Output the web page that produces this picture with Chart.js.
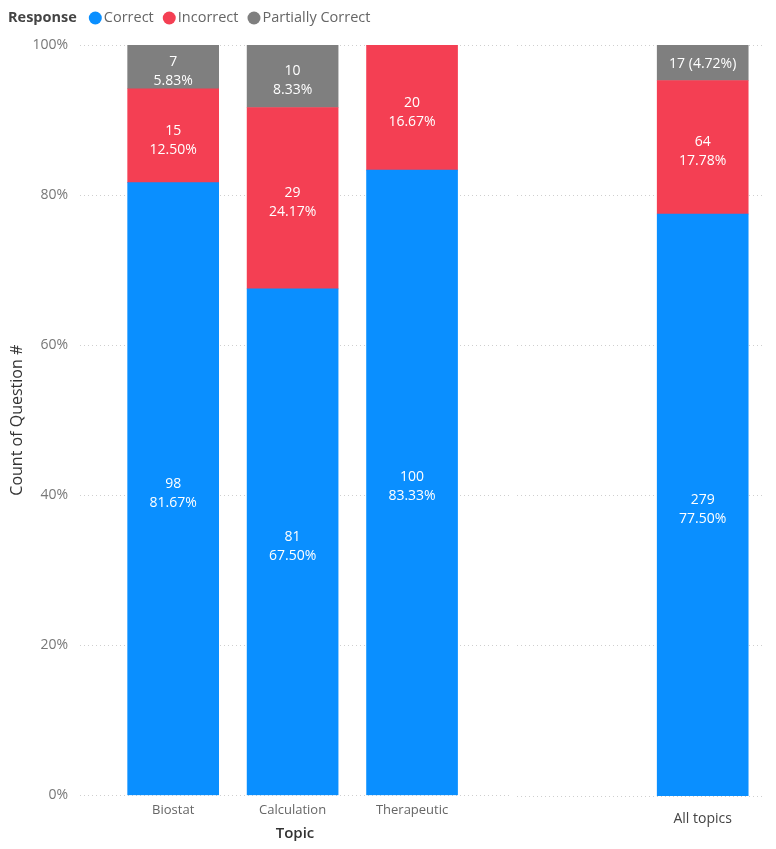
<!DOCTYPE html>
<html>
<head>
<meta charset="utf-8">
<script src="https://cdn.jsdelivr.net/npm/chart.js@4"></script>
<style>
  body { margin:0; background:#fff; }
  #wrap { position:relative; width:776px; height:849px; }
  #chart-topics  { position:absolute; left:0;   top:0; }
  #chart-overall { position:absolute; left:513px; top:0; }
</style>
</head>
<body>
<div id="wrap">
  <canvas id="chart-topics" width="513" height="849"></canvas>
  <canvas id="chart-overall" width="263" height="849"></canvas>
</div>
<script>
  // ── DATA ──────────────────────────────────────────────────────────────────
  const topics    = ['Biostat', 'Calculation', 'Therapeutic'];
  const correct   = [98, 81, 100];
  const incorrect = [15, 29, 20];
  const partial   = [7, 10, 0];

  const overallLabels    = ['All topics'];
  const overallCorrect   = [279];
  const overallIncorrect = [64];
  const overallPartial   = [17];

  const responses = ['Correct', 'Incorrect', 'Partially Correct'];
  const yTicks    = [0, 20, 40, 60, 80, 100];

  const COLORS = { 'Correct':'#0A8FFF', 'Incorrect':'#F43F53', 'Partially Correct':'#7F7F7F' };
  const FONT = '"Open Sans", "Noto Sans", sans-serif';

  // counts per series -> % of each column
  function toPct(series) {
    const totals = series[0].map((_, i) => series.reduce((s, arr) => s + arr[i], 0));
    return series.map(arr => arr.map((v, i) => ({ x:i, y: totals[i] ? v / totals[i] * 100 : 0 })));
  }

  function buildDatasets(series) {
    const pct = toPct(series);
    return responses.map((name, k) => ({
      label: name,
      data: pct[k],
      counts: series[k],
      backgroundColor: COLORS[name],
      borderWidth: 0,
      barThickness: 91,
    }));
  }

  // ── LABELS INSIDE SEGMENTS ────────────────────────────────────────────────
  const segmentLabels = {
    id: 'segmentLabels',
    afterDatasetsDraw(chart) {
      const ctx = chart.ctx;
      ctx.save();
      ctx.font = `14px ${FONT}`;
      ctx.fillStyle = '#fff';
      ctx.textAlign = 'center';
      ctx.textBaseline = 'middle';
      chart.data.datasets.forEach((ds, di) => {
        chart.getDatasetMeta(di).data.forEach((bar, i) => {
          const n = ds.counts[i];
          if (!n) return;
          const pct = ds.data[i].y.toFixed(2) + '%';
          const h  = bar.base - bar.y;
          const cy = (bar.base + bar.y) / 2;
          if (h >= 40) {
            ctx.fillText(String(n), bar.x, cy - 5);
            ctx.fillText(pct, bar.x, cy + 14);
          } else {
            ctx.fillText(`${n} (${pct})`, bar.x, cy + 1);
          }
        });
      });
      ctx.restore();
    }
  };

  // ── LEGEND (inline title + dots) ──────────────────────────────────────────
  const inlineLegend = {
    id: 'inlineLegend',
    afterDraw(chart) {
      const ctx = chart.ctx;
      const y = 18;
      ctx.save();
      ctx.textBaseline = 'middle';
      ctx.font = `bold 14.5px ${FONT}`;
      ctx.fillStyle = '#444';
      ctx.fillText('Response', 8, y);
      let x = 8 + ctx.measureText('Response').width + 12;
      ctx.font = `14.5px ${FONT}`;
      responses.forEach(name => {
        ctx.fillStyle = COLORS[name];
        ctx.beginPath();
        ctx.arc(x + 6.5, y, 6.5, 0, Math.PI * 2);
        ctx.fill();
        ctx.fillStyle = '#666';
        ctx.fillText(name, x + 15, y);
        x += 15 + ctx.measureText(name).width + 9;
      });
      ctx.restore();
    }
  };

  const gridY = {
    min: 0, max: 100,
    stacked: true,
    afterBuildTicks: s => { s.ticks = yTicks.map(v => ({ value:v })); },
    grid: { color:'#cfcfcf', lineWidth:1, drawTicks:false },
    border: { display:false, dash:[1,3] },
  };

  // ── TOPICS CHART ──────────────────────────────────────────────────────────
  new Chart(document.getElementById('chart-topics'), {
    type: 'bar',
    data: { datasets: buildDatasets([correct, incorrect, partial]) },
    plugins: [segmentLabels, inlineLegend],
    options: {
      responsive: false,
      animation: false,
      layout: { padding: { top:45, right:3, bottom:0, left:0 } },
      plugins: { legend:{ display:false }, tooltip:{ enabled:false } },
      scales: {
        x: {
          type: 'linear',
          offset: false,
          min: -0.78, max: 2.82,
          stacked: true,
          afterBuildTicks: s => { s.ticks = topics.map((_, i) => ({ value:i })); },
          ticks: { callback: v => topics[v] ?? '', autoSkip:false, maxRotation:0, padding:7,
                   color:'#666', font:{ family:FONT, size:13 } },
          grid: { display:false, drawTicks:false, offset:false },
          border: { display:false },
          title: { display:true, text:'Topic', color:'#333', padding:{ top:0, bottom:6 },
                   font:{ family:FONT, size:15, weight:'600' } },
        },
        y: {
          ...gridY,
          afterFit: s => { s.width = 80; },
          ticks: { callback: v => v + '%', padding:12, color:'#777', font:{ family:FONT, size:14 } },
          title: { display:true, text:'Count of Question #', color:'#333', padding:{ top:8, bottom:0 },
                   font:{ family:FONT, size:16 } },
        }
      }
    }
  });

  // ── ALL TOPICS CHART ──────────────────────────────────────────────────────
  new Chart(document.getElementById('chart-overall'), {
    type: 'bar',
    data: { datasets: buildDatasets([overallCorrect, overallIncorrect, overallPartial]) },
    plugins: [segmentLabels],
    options: {
      responsive: false,
      animation: false,
      layout: { padding: { top:45, right:11, bottom:8, left:4 } },
      plugins: { legend:{ display:false }, tooltip:{ enabled:false } },
      scales: {
        x: {
          type: 'linear',
          offset: false,
          min: -1.55, max: 0.52,
          stacked: true,
          afterBuildTicks: s => { s.ticks = overallLabels.map((_, i) => ({ value:i })); },
          ticks: { callback: v => overallLabels[v] ?? '', autoSkip:false, maxRotation:0, padding:14,
                   color:'#444', font:{ family:FONT, size:14 } },
          grid: { display:false, drawTicks:false, offset:false },
          border: { display:false },
        },
        y: {
          ...gridY,
          ticks: { display:false },
        }
      }
    }
  });
</script>
</body>
</html>
